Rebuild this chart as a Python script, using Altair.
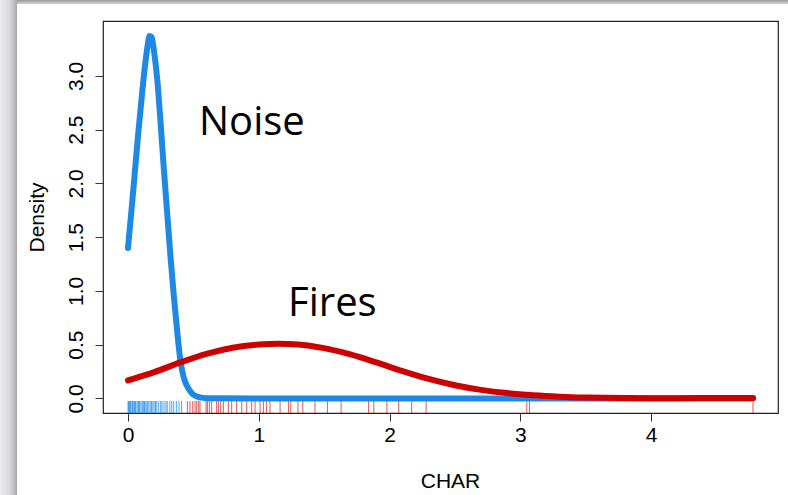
import altair as alt
import pandas as pd

# Kernel density estimates (CHAR, Density) for the two groups
noise_x = [0.00, 0.025, 0.05, 0.075, 0.10, 0.125, 0.15, 0.165, 0.18, 0.20, 0.225, 0.25,
           0.275, 0.30, 0.325, 0.35, 0.375, 0.40, 0.425, 0.45, 0.475, 0.50, 0.55, 0.60,
           0.70, 1.0, 1.5, 2.0, 2.5, 3.0, 3.5, 4.0, 4.5, 4.78]
noise_y = [1.40, 1.73, 2.07, 2.42, 2.74, 3.04, 3.28, 3.37, 3.36, 3.22, 2.95, 2.55,
           2.12, 1.72, 1.32, 0.96, 0.64, 0.36, 0.20, 0.12, 0.07, 0.035, 0.01, 0.003,
           0.001, 0.0, 0.0, 0.0, 0.0, 0.0, 0.0, 0.0, 0.0, 0.0]

fires_x = [0.0, 0.2, 0.4, 0.6, 0.8, 1.0, 1.15, 1.3, 1.5, 1.7, 1.9, 2.1, 2.3, 2.5,
           2.7, 2.9, 3.1, 3.3, 3.5, 3.8, 4.2, 4.5, 4.78]
fires_y = [0.168, 0.245, 0.335, 0.415, 0.472, 0.502, 0.51, 0.503, 0.468, 0.41, 0.335,
           0.255, 0.182, 0.123, 0.08, 0.05, 0.03, 0.017, 0.009, 0.004, 0.003, 0.004, 0.004]

# Raw observations shown as rugs
noise_obs = [0.0, 0.005, 0.01, 0.015, 0.02, 0.03, 0.035, 0.04, 0.05, 0.055, 0.06, 0.07,
             0.08, 0.085, 0.09, 0.10, 0.11, 0.12, 0.125, 0.13, 0.14, 0.15, 0.16, 0.17,
             0.18, 0.19, 0.20, 0.21, 0.22, 0.235, 0.25, 0.26, 0.275, 0.29, 0.30, 0.32,
             0.335, 0.35, 0.37, 0.39, 0.41]
fires_obs = [0.454, 0.474, 0.495, 0.513, 0.526, 0.541, 0.551, 0.597, 0.607, 0.622, 0.640,
             0.678, 0.691, 0.709, 0.729, 0.768, 0.793, 0.831, 0.870, 0.908, 0.946, 0.972,
             1.01, 1.035, 1.06, 1.086, 1.163, 1.227, 1.245, 1.30, 1.337, 1.43, 1.525,
             1.63, 1.84, 1.88, 1.98, 2.07, 2.17, 2.28, 3.05, 3.07, 4.78]

label_text = ["Noise", "Fires"]
label_x = [0.543, 1.224]
label_y = [2.447, 0.763]

BLUE = "#1E88E5"
RED = "#CC0000"
AXIS_FONT = "Liberation Sans"

noise_df = pd.DataFrame({"x": noise_x, "y": noise_y})
fires_df = pd.DataFrame({"x": fires_x, "y": fires_y})
noise_rug_df = pd.DataFrame({"x": noise_obs})
fires_rug_df = pd.DataFrame({"x": fires_obs})
labels_df = pd.DataFrame({"x": label_x, "y": label_y, "label": label_text})

x_scale = alt.Scale(domain=[-0.1912, 4.9712], nice=False, zero=False)
y_scale = alt.Scale(domain=[-0.135, 3.51], nice=False, zero=False)

x_axis = alt.Axis(
    values=[0, 1, 2, 3, 4], format="d", domain=False, grid=False,
    tickSize=8, tickColor="#333333", labelFont=AXIS_FONT, labelFontSize=21,
    labelColor="#000000", labelBaseline="alphabetic", labelPadding=20,
    labelFlush=False, labelOverlap=False,
    title="CHAR", titleFont=AXIS_FONT, titleFontSize=21, titleFontWeight="normal",
    titleColor="#000000", titleX=347, titleY=74, titleBaseline="alphabetic",
)
y_axis = alt.Axis(
    values=[0, 0.5, 1, 1.5, 2, 2.5, 3], format=".1f", domain=False, grid=False,
    tickSize=8, tickColor="#333333", labelFont=AXIS_FONT, labelFontSize=21,
    labelColor="#000000", labelAngle=270, labelAlign="center",
    labelBaseline="alphabetic", labelPadding=13, labelFlush=False, labelOverlap=False,
    title="Density", titleFont=AXIS_FONT, titleFontSize=21, titleFontWeight="normal",
    titleColor="#000000", titleAngle=270, titleX=-60, titleY=196,
    titleAlign="center", titleBaseline="alphabetic",
)

# Soft grey edges along the left and top of the canvas
frame_df = pd.DataFrame({"k": [0]})
left_shade = alt.Chart(frame_df).mark_rect(
    color=alt.LinearGradient(
        gradient="linear", x1=0, x2=1, y1=0, y2=0,
        stops=[alt.GradientStop(color="#ececee", offset=0),
               alt.GradientStop(color="#d6d6d8", offset=0.6),
               alt.GradientStop(color="#a8a8aa", offset=1)],
    )
).encode(x=alt.value(-103), x2=alt.value(-86), y=alt.value(-21), y2=alt.value(474))
top_shade = alt.Chart(frame_df).mark_rect(
    color=alt.LinearGradient(
        gradient="linear", x1=0, x2=0, y1=0, y2=1,
        stops=[alt.GradientStop(color="#9a9a9a", offset=0),
               alt.GradientStop(color="#d4d4d4", offset=1)],
    )
).encode(x=alt.value(-86), x2=alt.value(685), y=alt.value(-21), y2=alt.value(-17))

noise_rug = alt.Chart(noise_rug_df).mark_rule(
    color=BLUE, strokeWidth=1, opacity=0.75
).encode(x=alt.X("x:Q", scale=x_scale, axis=x_axis), y=alt.value(380), y2=alt.value(392))
fires_rug = alt.Chart(fires_rug_df).mark_rule(
    color=RED, strokeWidth=1, opacity=0.65
).encode(x=alt.X("x:Q", scale=x_scale, axis=x_axis), y=alt.value(380), y2=alt.value(392))

noise_line = alt.Chart(noise_df).mark_line(
    color=BLUE, strokeWidth=6, strokeCap="round", strokeJoin="round", interpolate="monotone"
).encode(
    x=alt.X("x:Q", scale=x_scale, axis=x_axis),
    y=alt.Y("y:Q", scale=y_scale, axis=y_axis),
    order="x:Q",
)
fires_line = alt.Chart(fires_df).mark_line(
    color=RED, strokeWidth=6, strokeCap="round", strokeJoin="round", interpolate="monotone"
).encode(
    x=alt.X("x:Q", scale=x_scale, axis=x_axis),
    y=alt.Y("y:Q", scale=y_scale, axis=y_axis),
    order="x:Q",
)

labels = alt.Chart(labels_df).mark_text(
    font="Open Sans", fontSize=40, align="left", baseline="alphabetic", color="#000000"
).encode(
    x=alt.X("x:Q", scale=x_scale, axis=x_axis),
    y=alt.Y("y:Q", scale=y_scale, axis=y_axis),
    text="label:N",
)

chart = alt.layer(
    left_shade, top_shade, noise_rug, fires_rug, noise_line, fires_line, labels
).properties(
    width=675,
    height=392,
    autosize=alt.AutoSizeParams(type="none"),
    padding={"left": 103, "top": 21, "right": 10, "bottom": 82},
    background="#ffffff",
).configure_view(
    stroke="#222222", strokeWidth=1.2
)

chart.save("out.html", embed_options={"renderer": "svg", "actions": False})
